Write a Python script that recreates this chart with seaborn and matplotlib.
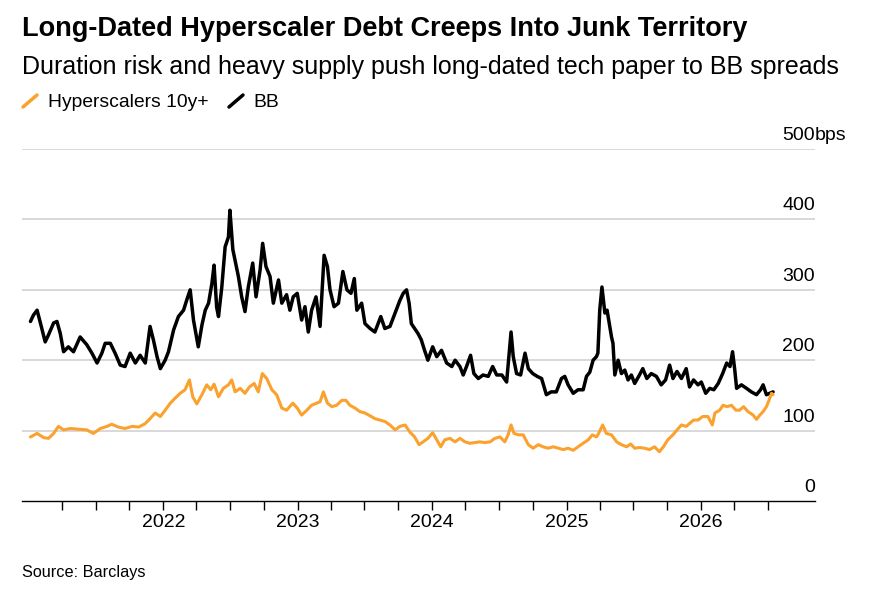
import matplotlib
matplotlib.use("Agg")
import matplotlib.pyplot as plt
import matplotlib.dates as mdates
from matplotlib.lines import Line2D
import seaborn as sns
import pandas as pd

# BB index spread (bps)
bb_dates = [
    "2021-01-05", "2021-01-13", "2021-01-23", "2021-02-01", "2021-02-14", "2021-02-23",
    "2021-03-09", "2021-03-18", "2021-03-27", "2021-04-05", "2021-04-18", "2021-05-02",
    "2021-05-20", "2021-06-07", "2021-06-21", "2021-07-05", "2021-07-18", "2021-07-27",
    "2021-08-10", "2021-08-23", "2021-09-06", "2021-09-19", "2021-10-03", "2021-10-17",
    "2021-10-30", "2021-11-13", "2021-11-26", "2021-12-05", "2021-12-15", "2021-12-24",
    "2022-01-06", "2022-01-15", "2022-01-29", "2022-02-11", "2022-02-25", "2022-03-06",
    "2022-03-15", "2022-03-24", "2022-04-06", "2022-04-16", "2022-04-25", "2022-05-04",
    "2022-05-13", "2022-05-19", "2022-05-26", "2022-05-31", "2022-06-09", "2022-06-18",
    "2022-06-27", "2022-07-01", "2022-07-09", "2022-07-15", "2022-07-24", "2022-08-02",
    "2022-08-11", "2022-08-20", "2022-09-01", "2022-09-10", "2022-09-21", "2022-09-28",
    "2022-10-07", "2022-10-18", "2022-10-27", "2022-11-10", "2022-11-19", "2022-12-02",
    "2022-12-11", "2022-12-20", "2022-12-31", "2023-01-12", "2023-01-21", "2023-01-30",
    "2023-02-08", "2023-02-20", "2023-03-03", "2023-03-14", "2023-03-23", "2023-03-30",
    "2023-04-10", "2023-04-22", "2023-05-04", "2023-05-15", "2023-05-26", "2023-06-04",
    "2023-06-11", "2023-06-24", "2023-07-03", "2023-07-17", "2023-07-30", "2023-08-15",
    "2023-08-26", "2023-09-09", "2023-09-23", "2023-10-06", "2023-10-15", "2023-10-24",
    "2023-10-31", "2023-11-06", "2023-11-15", "2023-11-24", "2023-12-03", "2023-12-12",
    "2023-12-21", "2024-01-03", "2024-01-14", "2024-01-27", "2024-02-10", "2024-02-24",
    "2024-03-04", "2024-03-17", "2024-03-26", "2024-04-04", "2024-04-15", "2024-04-24",
    "2024-05-06", "2024-05-19", "2024-06-02", "2024-06-14", "2024-06-25", "2024-07-09",
    "2024-07-22", "2024-08-03", "2024-08-09", "2024-08-18", "2024-08-29", "2024-09-10",
    "2024-09-19", "2024-10-01", "2024-10-13", "2024-10-25", "2024-11-07", "2024-11-20",
    "2024-12-04", "2024-12-18", "2024-12-27", "2025-01-05", "2025-01-19", "2025-02-01",
    "2025-02-15", "2025-02-24", "2025-03-05", "2025-03-14", "2025-03-23", "2025-03-27",
    "2025-04-01", "2025-04-07", "2025-04-15", "2025-04-21", "2025-04-27", "2025-05-03",
    "2025-05-07", "2025-05-12", "2025-05-21", "2025-05-30", "2025-06-08", "2025-06-17",
    "2025-06-26", "2025-07-05", "2025-07-18", "2025-07-27", "2025-08-07", "2025-08-19",
    "2025-09-02", "2025-09-15", "2025-09-27", "2025-10-08", "2025-10-17", "2025-10-28",
    "2025-11-09", "2025-11-22", "2025-12-01", "2025-12-12", "2025-12-24", "2026-01-02",
    "2026-01-14", "2026-01-25", "2026-02-05", "2026-02-17", "2026-03-01", "2026-03-12",
    "2026-03-21", "2026-03-28", "2026-04-03", "2026-04-08", "2026-04-21", "2026-05-05",
    "2026-05-18", "2026-06-01", "2026-06-12", "2026-06-19", "2026-06-28", "2026-07-07",
    "2026-07-16",
]
bb_values = [
    255, 264, 271, 253, 226, 236,
    253, 255, 238, 212, 219, 212,
    233, 222, 210, 196, 210, 224,
    224, 210, 193, 191, 210, 196,
    207, 196, 248, 229, 205, 188,
    200, 212, 243, 262, 271, 286,
    300, 257, 219, 250, 271, 281,
    309, 335, 275, 262, 304, 361,
    375, 413, 357, 342, 319, 290,
    269, 304, 338, 290, 328, 366,
    333, 319, 281, 314, 281, 293,
    271, 290, 295, 257, 276, 240,
    271, 290, 248, 349, 333, 300,
    276, 281, 326, 300, 295, 316,
    271, 281, 252, 245, 240, 262,
    245, 248, 267, 285, 295, 300,
    281, 252, 245, 238, 229, 214,
    200, 219, 205, 214, 196, 191,
    200, 191, 179, 191, 207, 181,
    174, 179, 177, 191, 179, 179,
    169, 240, 205, 181, 179, 210,
    188, 181, 177, 174, 151, 155,
    155, 174, 177, 165, 153, 158,
    158, 177, 183, 200, 205, 210,
    271, 304, 267, 271, 252, 233,
    224, 179, 200, 181, 186, 172,
    179, 167, 179, 188, 174, 181,
    177, 165, 172, 193, 174, 184,
    174, 188, 162, 172, 165, 169,
    153, 160, 158, 167, 181, 196,
    191, 212, 186, 160, 165, 160,
    155, 151, 158, 165, 151, 153,
    155,
]

# Hyperscalers 10y+ spread (bps)
hyp_dates = [
    "2021-01-05", "2021-01-23", "2021-02-10", "2021-02-23", "2021-03-09", "2021-03-22",
    "2021-04-05", "2021-04-23", "2021-05-16", "2021-06-07", "2021-06-25", "2021-07-14",
    "2021-08-01", "2021-08-14", "2021-09-01", "2021-09-19", "2021-10-08", "2021-10-26",
    "2021-11-13", "2021-11-26", "2021-12-10", "2021-12-24", "2022-01-06", "2022-01-20",
    "2022-02-02", "2022-02-16", "2022-03-01", "2022-03-13", "2022-03-22", "2022-04-02",
    "2022-04-16", "2022-04-29", "2022-05-10", "2022-05-19", "2022-05-31", "2022-06-13",
    "2022-06-27", "2022-07-06", "2022-07-15", "2022-07-29", "2022-08-11", "2022-08-23",
    "2022-09-05", "2022-09-16", "2022-09-27", "2022-10-09", "2022-10-23", "2022-11-05",
    "2022-11-19", "2022-12-02", "2022-12-19", "2022-12-31", "2023-01-12", "2023-01-26",
    "2023-02-08", "2023-02-22", "2023-03-03", "2023-03-12", "2023-03-23", "2023-04-04",
    "2023-04-17", "2023-05-01", "2023-05-12", "2023-05-23", "2023-06-06", "2023-06-19",
    "2023-07-03", "2023-07-17", "2023-07-30", "2023-08-13", "2023-08-26", "2023-09-09",
    "2023-09-23", "2023-10-06", "2023-10-20", "2023-11-02", "2023-11-15", "2023-11-27",
    "2023-12-08", "2023-12-21", "2024-01-03", "2024-01-14", "2024-01-25", "2024-02-05",
    "2024-02-19", "2024-03-04", "2024-03-17", "2024-03-31", "2024-04-13", "2024-04-27",
    "2024-05-10", "2024-05-24", "2024-06-07", "2024-06-20", "2024-07-04", "2024-07-17",
    "2024-07-26", "2024-08-03", "2024-08-11", "2024-08-23", "2024-09-05", "2024-09-19",
    "2024-10-02", "2024-10-16", "2024-10-29", "2024-11-12", "2024-11-26", "2024-12-09",
    "2024-12-23", "2025-01-05", "2025-01-19", "2025-02-01", "2025-02-15", "2025-03-01",
    "2025-03-12", "2025-03-23", "2025-03-27", "2025-04-09", "2025-04-19", "2025-05-03",
    "2025-05-17", "2025-05-30", "2025-06-13", "2025-06-24", "2025-07-05", "2025-07-18",
    "2025-08-01", "2025-08-14", "2025-08-28", "2025-09-10", "2025-09-21", "2025-10-03",
    "2025-10-17", "2025-10-28", "2025-11-09", "2025-11-22", "2025-12-01", "2025-12-12",
    "2025-12-24", "2026-01-06", "2026-01-20", "2026-02-01", "2026-02-08", "2026-02-21",
    "2026-03-02", "2026-03-13", "2026-03-25", "2026-04-06", "2026-04-16", "2026-04-27",
    "2026-05-09", "2026-05-23", "2026-06-01", "2026-06-10", "2026-06-19", "2026-06-28",
    "2026-07-05", "2026-07-12", "2026-07-16",
]
hyp_values = [
    91, 96, 90, 89, 96, 106,
    101, 103, 102, 101, 96, 103,
    106, 109, 105, 103, 106, 105,
    110, 117, 125, 120, 129, 139,
    146, 153, 158, 172, 148, 138,
    151, 165, 158, 166, 148, 160,
    165, 172, 155, 160, 153, 162,
    167, 155, 181, 174, 158, 151,
    132, 129, 139, 132, 122, 129,
    136, 139, 141, 155, 139, 134,
    136, 143, 143, 136, 132, 127,
    125, 121, 117, 115, 113, 108,
    101, 106, 108, 98, 91, 80,
    84, 89, 97, 87, 77, 87,
    89, 84, 89, 84, 82, 83,
    84, 83, 84, 89, 91, 84,
    94, 108, 96, 94, 94, 80,
    75, 80, 77, 75, 77, 75,
    73, 75, 72, 77, 82, 87,
    94, 91, 94, 108, 96, 94,
    84, 80, 77, 81, 75, 76,
    75, 73, 77, 70, 77, 87,
    94, 101, 108, 106, 110, 115,
    115, 120, 120, 108, 125, 129,
    136, 134, 136, 129, 129, 134,
    127, 122, 116, 122, 127, 134,
    143, 153, 151,
]

y_ticks = [0, 100, 200, 300, 400, 500]
year_ticks = ["2022-01-01", "2023-01-01", "2024-01-01", "2025-01-01", "2026-01-01"]
year_labels = ["2022", "2023", "2024", "2025", "2026"]
quarter_ticks = pd.date_range("2021-04-01", "2026-07-01", freq="QS")

bb = pd.DataFrame({"date": pd.to_datetime(bb_dates), "spread": bb_values})
hyp = pd.DataFrame({"date": pd.to_datetime(hyp_dates), "spread": hyp_values})

ORANGE = "#fba12d"
GRID = "#d6d6d6"

sns.set_theme(style="white")
plt.rcParams["font.family"] = ["Liberation Sans", "DejaVu Sans"]
plt.rcParams["text.color"] = "black"
plt.rcParams["xtick.color"] = "black"

fig = plt.figure(figsize=(8.92, 6.08), dpi=100)
ax = fig.add_axes([22 / 892, 1 - 501 / 608, (815 - 22) / 892, (501 - 149) / 608])

sns.lineplot(data=bb, x="date", y="spread", ax=ax, color="black", linewidth=2.5)
sns.lineplot(data=hyp, x="date", y="spread", ax=ax, color=ORANGE, linewidth=2.2)

ax.set_xlim(pd.Timestamp("2020-12-13"), pd.Timestamp("2026-11-07"))
ax.set_ylim(0, 500)
ax.set_xlabel("")
ax.set_ylabel("")

# horizontal grid, labels sit above the lines at the right
ax.set_yticks(y_ticks)
ax.tick_params(axis="y", left=False, right=False, labelleft=False, labelright=False)
for v in y_ticks[1:]:
    ax.axhline(v, color=GRID, linewidth=1.3, zorder=0)
for v in y_ticks:
    ax.annotate(str(v), xy=(1.0, v), xycoords=("axes fraction", "data"),
                xytext=(0, 6.5), textcoords="offset points",
                ha="right", va="baseline", fontsize=14, color="black")
ax.annotate("bps", xy=(1.0, 500), xycoords=("axes fraction", "data"),
            xytext=(0, 6.5), textcoords="offset points",
            ha="left", va="baseline", fontsize=14, color="black")

# x axis: year labels, quarterly ticks all the same length
ax.set_xticks(pd.to_datetime(year_ticks))
ax.set_xticklabels(year_labels)
ax.set_xticks(quarter_ticks, minor=True)
ax.tick_params(axis="x", which="both", bottom=True, direction="out",
               length=6.5, width=1, color="black", labelsize=14, pad=3,
               labelcolor="black")

for s in ["top", "left", "right"]:
    ax.spines[s].set_visible(False)
ax.spines["bottom"].set_color("black")
ax.spines["bottom"].set_linewidth(1)

# header
fig.text(22 / 892, 1 - 36 / 608, "Long-Dated Hyperscaler Debt Creeps Into Junk Territory",
         fontsize=19.5, fontweight="bold", va="baseline", ha="left")
fig.text(22 / 892, 1 - 74 / 608,
         "Duration risk and heavy supply push long-dated tech paper to BB spreads",
         fontsize=18, va="baseline", ha="left")

# legend with slash markers
fig.add_artist(Line2D([23 / 892, 37 / 892], [1 - 107 / 608, 1 - 95 / 608],
                      color=ORANGE, linewidth=2.5, transform=fig.transFigure))
fig.text(48 / 892, 1 - 107 / 608, "Hyperscalers 10y+", fontsize=13.9,
         va="baseline", ha="left")
fig.add_artist(Line2D([229 / 892, 243 / 892], [1 - 107 / 608, 1 - 95 / 608],
                      color="black", linewidth=2.5, transform=fig.transFigure))
fig.text(253 / 892, 1 - 107 / 608, "BB", fontsize=13.9, va="baseline", ha="left")

fig.text(22 / 892, 1 - 577 / 608, "Source: Barclays", fontsize=11.7, va="baseline", ha="left")

fig.savefig("out.png", dpi=100)
